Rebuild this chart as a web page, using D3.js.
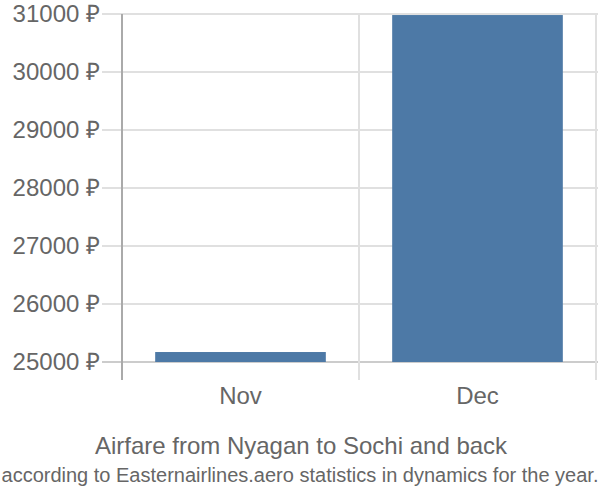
<!DOCTYPE html>
<html><head><meta charset="utf-8">
<script src="https://cdn.jsdelivr.net/npm/d3@7"></script>
<style>body{margin:0;background:#fff;}svg{display:block;font-family:"Liberation Sans",Arial,sans-serif;}</style>
</head><body>
<svg id="c" width="600" height="500"></svg>
<script>
const categories = ["Nov", "Dec"];
const values = [25172, 30982];
const yTicks = [25000, 26000, 27000, 28000, 29000, 30000, 31000];
const title = "Airfare from Nyagan to Sochi and back";
const subtitle = "according to Easternairlines.aero statistics in dynamics for the year.";

(function () {
const svg = d3.select("#c");
const mLeft = 122, mRight = 596, mTop = 14, mBottom = 362, axisBottom = 380;
const x = d3.scaleBand().domain(categories).range([mLeft, mRight]).paddingInner(0.28).paddingOuter(0.14);
const bandStep = x.step();
const y = d3.scaleLinear().domain([25000, 31000]).range([mBottom, mTop]);

svg.append("g").selectAll("line").data(yTicks).join("line")
  .attr("x1", 102).attr("x2", 598).attr("y1", d => y(d)).attr("y2", d => y(d))
  .attr("stroke", d => d === 25000 ? "#ccc" : "#e0e0e0").attr("stroke-width", 2);
const bounds = categories.map((c, i) => mLeft + bandStep * (i + 1));
svg.append("g").selectAll("line").data(bounds).join("line")
  .attr("x1", d => d).attr("x2", d => d).attr("y1", mTop).attr("y2", axisBottom)
  .attr("stroke", "#e0e0e0").attr("stroke-width", 2);
svg.append("line").attr("x1", mLeft).attr("x2", mLeft).attr("y1", mTop).attr("y2", axisBottom)
  .attr("stroke", "#aaa").attr("stroke-width", 2);

svg.append("g").selectAll("rect").data(categories).join("rect")
  .attr("x", d => x(d)).attr("width", x.bandwidth())
  .attr("y", (d, i) => y(values[i])).attr("height", (d, i) => mBottom - y(values[i]))
  .attr("fill", "#4d79a6");

svg.append("g").selectAll("text").data(yTicks).join("text")
  .attr("x", 100).attr("y", d => y(d)).attr("dy", "0.35em").attr("text-anchor", "end")
  .attr("font-size", 24).attr("fill", "#666").text(d => d + " ₽");
svg.append("g").selectAll("text").data(categories).join("text")
  .attr("x", d => x(d) + x.bandwidth() / 2).attr("y", 404).attr("text-anchor", "middle")
  .attr("font-size", 24).attr("fill", "#666").text(d => d);

svg.append("text").attr("x", 301).attr("y", 454).attr("text-anchor", "middle")
  .attr("font-size", 24).attr("fill", "#666").text(title);
svg.append("text").attr("x", 300).attr("y", 482).attr("text-anchor", "middle")
  .attr("font-size", 20).attr("fill", "#666").text(subtitle);
})();
</script>
</body></html>
